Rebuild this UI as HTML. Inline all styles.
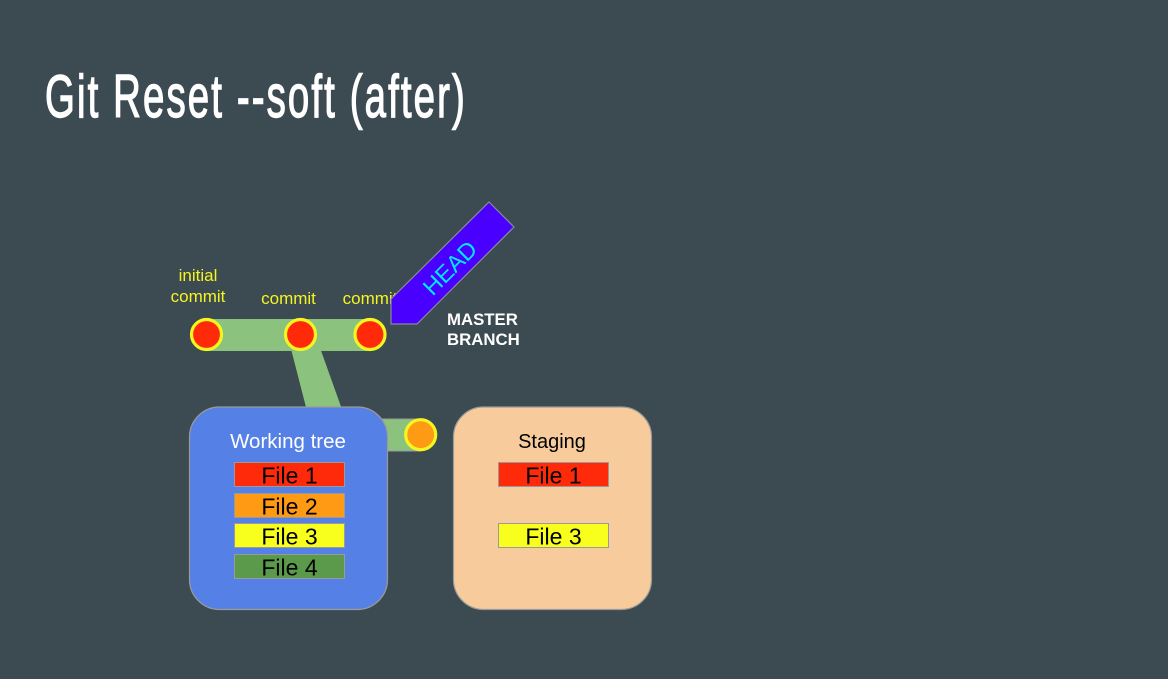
<!DOCTYPE html>
<html>
<head>
<meta charset="utf-8">
<style>
  html, body { margin:0; padding:0; background:#3c4a51; }
  body { width:1168px; height:679px; overflow:hidden; }
  svg { display:block; }
</style>
</head>
<body>
<svg width="1168" height="679" viewBox="0 0 1168 679" xmlns="http://www.w3.org/2000/svg">
  <rect x="0" y="0" width="1168" height="679" fill="#3c4a51"/>

  <!-- Title -->
  <g transform="translate(45,117) scale(0.64,1)">
    <text x="0" y="0" font-family="Liberation Sans, sans-serif" font-size="60" fill="#ffffff" stroke="#ffffff" stroke-width="1.4" textLength="656" lengthAdjust="spacing">Git Reset --soft (after)</text>
  </g>

  <!-- commit labels -->
  <g font-family="Liberation Sans, sans-serif" font-size="17" fill="#f5f520" text-anchor="middle">
    <text x="198" y="281">initial</text>
    <text x="198" y="302">commit</text>
    <text x="288.5" y="304">commit</text>
    <text x="370" y="304">commit</text>
  </g>

  <!-- diagonal green connector -->
  <polygon points="290,345 319,345 344,415 308,415" fill="#8bc37e"/>
  <!-- commit bar -->
  <rect x="206" y="319" width="164" height="32" fill="#8bc37e"/>
  <!-- right connector to orange circle -->
  <rect x="380" y="419" width="41" height="32" fill="#8bc37e" stroke="#9a9a9a" stroke-width="1"/>

  <!-- HEAD arrow -->
  <polygon points="489,202 514,227 417,324 391,324 391,299" fill="#4a00ff" stroke="#8a8a9a" stroke-width="1.2"/>
  <text x="0" y="0" transform="translate(450,268) rotate(-45)" font-family="Liberation Sans, sans-serif" font-size="23.5" fill="#00e8ff" text-anchor="middle" dominant-baseline="central">HEAD</text>

  <!-- commit circles -->
  <g fill="#ff2a0a" stroke="#f5f520" stroke-width="3.2">
    <circle cx="206.5" cy="334.5" r="15"/>
    <circle cx="300.5" cy="334.5" r="15"/>
    <circle cx="370" cy="334.5" r="15"/>
  </g>

  <!-- MASTER BRANCH -->
  <g font-family="Liberation Sans, sans-serif" font-size="16.8" font-weight="bold" fill="#ffffff">
    <text x="447" y="325">MASTER</text>
    <text x="447" y="345">BRANCH</text>
  </g>

  <!-- Working tree box -->
  <rect x="189.5" y="407" width="198" height="202.5" rx="30" ry="30" fill="#5580e6" stroke="#9a9a9a" stroke-width="1.2"/>
  <text x="288" y="448" font-family="Liberation Sans, sans-serif" font-size="20.5" fill="#ffffff" text-anchor="middle">Working tree</text>

  <!-- orange circle -->
  <circle cx="420.7" cy="434.7" r="15" fill="#ff9a14" stroke="#f5f520" stroke-width="3.2"/>

  <!-- Working tree files -->
  <g stroke="#9a9a9a" stroke-width="1">
    <rect x="234.5" y="462.5" width="110" height="24" fill="#ff2a0a"/>
    <rect x="234.5" y="493.5" width="110" height="24" fill="#ff9a14"/>
    <rect x="234.5" y="523.5" width="110" height="24" fill="#f8ff1c"/>
    <rect x="234.5" y="554.5" width="110" height="24" fill="#5a9a4a"/>
  </g>
  <g font-family="Liberation Sans, sans-serif" font-size="23" fill="#000000" text-anchor="middle">
    <text x="289.5" y="483.3">File 1</text>
    <text x="289.5" y="514.3">File 2</text>
    <text x="289.5" y="544.3">File 3</text>
    <text x="289.5" y="575.3">File 4</text>
  </g>

  <!-- Staging box -->
  <rect x="453.5" y="407" width="198" height="202.5" rx="30" ry="30" fill="#f8cb9c" stroke="#9a9a9a" stroke-width="1.2"/>
  <text x="552" y="448" font-family="Liberation Sans, sans-serif" font-size="20" fill="#000000" text-anchor="middle">Staging</text>
  <g stroke="#9a9a9a" stroke-width="1">
    <rect x="498.5" y="462.5" width="110" height="24" fill="#ff2a0a"/>
    <rect x="498.5" y="523.5" width="110" height="24" fill="#f8ff1c"/>
  </g>
  <g font-family="Liberation Sans, sans-serif" font-size="23" fill="#000000" text-anchor="middle">
    <text x="553.5" y="483.3">File 1</text>
    <text x="553.5" y="544.3">File 3</text>
  </g>
</svg>
</body>
</html>
